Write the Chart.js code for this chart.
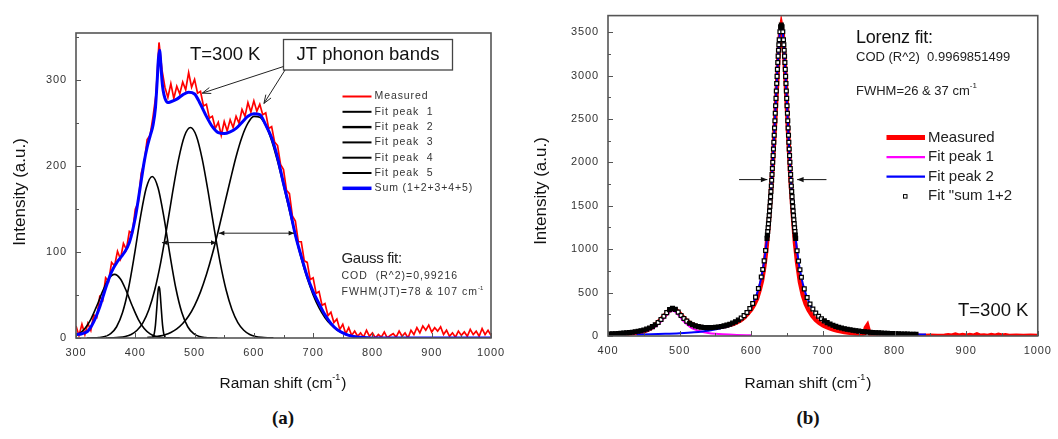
<!DOCTYPE html>
<html>
<head>
<meta charset="utf-8">
<script src="https://cdn.jsdelivr.net/npm/chart.js@4.4.1/dist/chart.umd.min.js"></script>
<style>
  body { margin: 0; background: #fff; width: 1058px; height: 439px; overflow: hidden; position: relative; }
  canvas { position: absolute; top: 0; }
  #chartA { left: 0; }
  #chartB { left: 529px; }
  .panel { position: absolute; top: 407px; width: 60px; text-align: center; line-height: 24px;
           font: bold 19px "Liberation Serif", "Times New Roman", serif; color: #111; }
</style>
</head>
<body>
<canvas id="chartA" width="529" height="400"></canvas>
<canvas id="chartB" width="529" height="400"></canvas>
<div class="panel" style="left:253px">(a)</div>
<div class="panel" style="left:778px">(b)</div>

<script>
function grid(start, step, count) {
  var a = [];
  for (var i = 0; i < count; i++) a.push(start + i * step);
  return a;
}
function pts(xs, ys) {
  return xs.map(function (x, i) { return { x: x, y: ys[i] }; });
}

// ---- (a) Gauss fit of the 300 K spectrum ----
var xTicksA = [300, 400, 500, 600, 700, 800, 900, 1000];
var yTicksA = [0, 100, 200, 300];

var shiftA = grid(300, 5, 141);
var measuredA = [
  14, 3, 16, 4, 17, 9, 27, 24, 48, 44, 70, 66, 88, 84, 101, 92, 110, 103, 124, 122,
  150, 158, 192, 204, 231, 236, 258, 284, 344, 312, 292, 280, 296, 279, 293, 284, 298, 289, 309, 292,
  301, 285, 287, 270, 272, 256, 258, 244, 251, 236, 252, 241, 254, 245, 258, 250, 266, 258, 274, 263,
  276, 264, 272, 260, 262, 244, 246, 228, 224, 202, 196, 172, 168, 142, 136, 112, 112, 90, 88, 68,
  70, 52, 54, 38, 40, 26, 30, 18, 22, 10, 16, 5, 12, 3, 8, 2, 6, 1, 9, 2,
  6, 0, 4, 1, 7, 0, 3, 5, 1, 8, 2, 6, 0, 9, 4, 12, 6, 14, 9, 15,
  7, 12, 8, 13, 4, 9, 2, 6, 1, 8, 3, 7, 2, 10, 4, 8, 2, 11, 4, 9, 3
];

var sumAX = [300, 310, 320, 330, 340, 350, 360, 370, 380, 390, 400, 410, 415, 420, 425, 430, 434, 437, 439, 441,
  443, 445, 447, 450, 455, 460, 470, 480, 490, 500, 510, 520, 530, 540, 550, 560, 570, 580, 590, 600,
  610, 620, 630, 640, 650, 660, 670, 680, 690, 700, 710, 720, 730, 740, 750, 760, 770, 780, 790, 800,
  850, 900, 950, 1000];
var sumA = [4, 5, 8, 19, 36, 58, 77, 89, 98, 111, 140, 183, 205, 222, 235, 248, 268, 300, 325, 335,
  320, 300, 288, 279, 274, 275, 278, 283, 286, 284, 272, 258, 246, 239, 238, 240, 244, 251, 258, 261,
  260, 248, 233, 210, 180, 152, 120, 95, 72, 54, 40, 27, 17, 10, 6, 3, 1.5, 0.8, 0.3, 0,
  0, 0, 0, 0];

var peak1X = [300, 305, 315, 325, 335, 345, 355, 365, 375, 385, 395, 405, 415, 425, 435, 445, 455, 465, 475];
var peak1 = [3.0, 4.8, 11.0, 21.8, 37.2, 54.5, 68.6, 74, 68.6, 54.5, 37.2, 21.8, 11.0, 4.8, 1.8, 0.6, 0.2, 0.05, 0];

var peak2X = grid(318.5, 10, 23);
var peak2 = [0.03, 0.12, 0.47, 1.65, 5.0, 13.1, 29.6, 57.6, 96.6, 139.8, 174.6, 188, 174.6, 139.8, 96.6, 57.6,
  29.6, 13.1, 5.0, 1.65, 0.47, 0.12, 0.03];

var peak3X = grid(353, 10, 29);
var peak3 = [0.1, 0.25, 0.7, 1.75, 4.1, 9.0, 18.0, 33.2, 56.4, 88.3, 127.5, 169.7, 208, 235.2, 245, 235.2,
  208, 169.7, 127.5, 88.3, 56.4, 33.2, 18.0, 9.0, 4.1, 1.75, 0.7, 0.25, 0.1];

var peak4X = [428, 430, 432, 434, 436, 438, 439, 440, 441, 442, 444, 446, 448, 450, 452];
var peak4 = [0.2, 1.3, 5.1, 15.0, 32.4, 51.4, 57.7, 60, 57.7, 51.4, 32.4, 15.0, 5.1, 1.3, 0.2];

var peak5X = grid(420, 10, 39);
var peak5 = [0.6, 1.2, 2.2, 3.8, 6.5, 10.6, 16.8, 25.6, 37.8, 53.7, 73.8, 97.7, 124.9, 154, 183, 211, 234, 250,
  258, 257, 247.5, 229.7, 205.6, 177.7, 148.2, 119.3, 92.6, 69.4, 50.2, 35.0, 23.6, 15.4, 9.6, 5.8, 3.4,
  1.9, 1.0, 0.5, 0.3];

// ---- (b) Lorentz fit ----
var xTicksB = [400, 500, 600, 700, 800, 900, 1000];
var yTicksB = [0, 500, 1000, 1500, 2000, 2500, 3000, 3500];

var shiftB = [400, 410, 420, 430, 440, 450, 455, 460, 465, 470, 475, 480, 485, 490, 495, 500, 505, 510, 515, 520,
  525, 530, 535, 540, 545, 550, 555, 560, 565, 570, 575, 580, 585, 590, 595, 600, 604, 608, 612, 615,
  618, 621, 624, 627, 630, 633, 636, 638, 640, 642, 644, 646, 648, 650, 652, 655, 658, 661, 664, 668,
  672, 676, 680, 685, 690, 695, 700, 705, 710, 715, 720, 725, 730, 735, 740, 745, 750, 755, 758, 760,
  762, 764, 766, 770, 780, 790, 800, 810, 820, 830, 840, 850, 860, 870, 875, 880, 885, 890, 895, 900,
  905, 910, 915, 920, 925, 930, 935, 940, 945, 950, 955, 960, 970, 980, 990, 1000];
var measuredB = [12, 18, 22, 30, 38, 55, 70, 92, 120, 160, 200, 245, 290, 315, 300, 260, 215, 175, 145, 125,
  112, 102, 98, 95, 96, 98, 103, 110, 118, 128, 140, 158, 180, 212, 255, 305, 360, 430, 540, 640,
  790, 990, 1260, 1600, 1980, 2420, 2900, 3230, 3450, 3560, 3470, 3260, 2950, 2600, 2250, 1780, 1400, 1080, 850, 620,
  470, 370, 300, 235, 185, 150, 125, 105, 88, 75, 63, 54, 46, 40, 34, 30, 26, 24, 30, 95,
  120, 60, 22, 18, 12, 8, 5, 3, 2, 2, 1, 2, 1, 2, 8, 3, 15, 4, 10, 2,
  12, 3, 18, 2, 6, 1, 10, 2, 14, 3, 8, 1, 2, 1, 2, 1];

var lor1X = [420, 430, 440, 450, 460, 466, 470, 474, 478, 482, 486, 490, 494, 498, 502, 506, 510, 514, 520, 530,
  540, 550, 560, 580, 600];
var lor1 = [18.9, 25.2, 34.9, 51.1, 79.9, 108, 134, 166, 204, 244, 277, 290, 277, 244, 204, 166, 134, 108, 79.9, 51.1,
  34.9, 25.2, 18.9, 11.75, 7.98];

var lor2X = [440, 460, 480, 500, 520, 540, 560, 570, 580, 590, 600, 606, 610, 614, 618, 622, 625, 628, 630, 632,
  634, 636, 638, 640, 642, 644, 646, 648, 650, 652, 654, 656, 659, 662, 666, 670, 674, 678, 684, 694,
  704, 714, 724, 744, 764, 784, 804, 824, 844];
var lor2 = [15.9, 19.6, 24.7, 32.0, 43.2, 61.5, 94.3, 121.5, 162, 225.7, 335, 441, 540, 674, 859, 1119, 1383, 1722, 1997, 2308,
  2646, 2985, 3286, 3498, 3575, 3498, 3286, 2985, 2646, 2308, 1997, 1722, 1383, 1119, 859, 674, 540, 441, 335, 225.7,
  162, 121.5, 94.3, 61.5, 43.2, 32.0, 24.7, 19.6, 15.9];

var fitSumBX = grid(402, 4, 54).concat([616, 618, 620], grid(622, 0.5, 34), grid(639, 1, 7),
  grid(645.5, 0.5, 34), [664, 666, 668], grid(670, 4, 41));
var fitSumB = [
  23.6, 25.1, 26.8, 28.7, 30.9, 33.4, 36.3, 39.6, 43.5, 48.2, 53.7, 60.5, 68.7, 78.9, 91.7, 108, 129, 156, 189, 228,
  269, 304, 318, 306.5, 275, 237, 201, 171, 147, 130, 117, 108, 102, 98.6, 96.8, 96.6, 97.8, 100.6, 104.6, 110,
  117, 125.5, 136, 149, 164.5, 183.6, 206.8, 235, 271, 316, 374, 448, 547, 680,
  765, 865, 984,
  1124, 1163, 1204, 1247, 1292, 1339, 1388, 1439, 1492, 1547, 1605, 1665, 1727, 1793, 1860, 1930, 2002, 2077, 2153, 2232,
  2313, 2396, 2480, 2565, 2651, 2737, 2822, 2907, 2990, 3071, 3149, 3223, 3291, 3355,
  3412, 3503, 3560, 3580, 3560, 3503, 3412,
  3355, 3291, 3223, 3149, 3071, 2990, 2907, 2822, 2737, 2651, 2565, 2480, 2396, 2313,
  2232, 2153, 2077, 2002, 1930, 1860, 1793, 1727, 1665, 1605, 1547, 1492, 1439, 1388, 1339, 1292, 1247, 1204, 1163, 1124,
  982, 863, 763,
  677, 543, 444, 369, 310, 264, 228, 198, 174, 154, 138, 123, 111, 101, 92, 84, 77, 71, 65.5, 61,
  56.5, 52.6, 49.2, 46, 43.2, 40.6, 38.2, 36.1, 34.1, 32.2, 30.6, 29.1, 27.6, 26.3, 25.1, 24, 22.9, 21.9, 21, 20, 19.2
];

// ---- drawing helpers ----
var SANS = '"Liberation Sans", Arial, Helvetica, sans-serif';
var RED = '#ff0000', BLUE = '#0000ff', MAGENTA = '#ff00ff';

function setFont(ctx, size, spacing) {
  ctx.font = size + 'px ' + SANS;
  ctx.letterSpacing = (spacing || 0) + 'px';
}

// text followed by a small raised part and an optional tail, e.g. cm^-1)
function supText(ctx, x, y, main, sup, tail, size, spacing, align) {
  setFont(ctx, size, spacing);
  var w1 = ctx.measureText(main).width;
  var w3 = tail ? ctx.measureText(tail).width : 0;
  setFont(ctx, Math.round(size * 0.6), 0);
  var w2 = ctx.measureText(sup).width + 1;
  var x0 = align === 'center' ? x - (w1 + w2 + w3) / 2 : x;
  ctx.textAlign = 'left';
  ctx.textBaseline = 'middle';
  setFont(ctx, size, spacing);
  ctx.fillText(main, x0, y);
  setFont(ctx, Math.round(size * 0.6), 0);
  ctx.fillText(sup, x0 + w1, y - size * 0.42);
  if (tail) {
    setFont(ctx, size, spacing);
    ctx.fillText(tail, x0 + w1 + w2, y);
  }
}

function arrowHead(ctx, x1, y1, x2, y2, len, spread, filled) {
  var ang = Math.atan2(y2 - y1, x2 - x1);
  ctx.beginPath();
  ctx.moveTo(x2 - len * Math.cos(ang - spread), y2 - len * Math.sin(ang - spread));
  ctx.lineTo(x2, y2);
  ctx.lineTo(x2 - len * Math.cos(ang + spread), y2 - len * Math.sin(ang + spread));
  if (filled) { ctx.closePath(); ctx.fill(); } else { ctx.stroke(); }
}

function arrow(ctx, x1, y1, x2, y2, len, spread, filled, both) {
  ctx.beginPath();
  ctx.moveTo(x1, y1);
  ctx.lineTo(x2, y2);
  ctx.stroke();
  arrowHead(ctx, x1, y1, x2, y2, len, spread, filled);
  if (both) arrowHead(ctx, x2, y2, x1, y1, len, spread, filled);
}

// box around the plot with short inward ticks, minor ones halfway between labels
function drawFrame(chart, xTicks, yTicks) {
  var ctx = chart.ctx, a = chart.chartArea, xs = chart.scales.x, ys = chart.scales.y;
  ctx.save();
  ctx.strokeStyle = '#555';
  ctx.lineWidth = 1;
  ctx.beginPath();
  xTicks.forEach(function (v, i) {
    var p = Math.round(xs.getPixelForValue(v)) + 0.5;
    ctx.moveTo(p, a.bottom);
    ctx.lineTo(p, a.bottom - 5);
    if (i > 0) {
      var m = Math.round(xs.getPixelForValue((v + xTicks[i - 1]) / 2)) + 0.5;
      ctx.moveTo(m, a.bottom);
      ctx.lineTo(m, a.bottom - 3);
    }
  });
  yTicks.forEach(function (v, i) {
    var p = Math.round(ys.getPixelForValue(v)) + 0.5;
    ctx.moveTo(a.left, p);
    ctx.lineTo(a.left + 5, p);
    var next = i < yTicks.length - 1 ? (v + yTicks[i + 1]) / 2 : v + (v - yTicks[i - 1]) / 2;
    if (next < ys.max) {
      var m = Math.round(ys.getPixelForValue(next)) + 0.5;
      ctx.moveTo(a.left, m);
      ctx.lineTo(a.left + 3, m);
    }
  });
  ctx.stroke();
  ctx.lineWidth = 1.6;
  ctx.strokeRect(a.left, a.top, a.right - a.left, a.bottom - a.top);
  ctx.restore();
}

function axisTitles(ctx, xc, yc, xTitleX, xTitleY) {
  ctx.save();
  ctx.fillStyle = '#111';
  supText(ctx, xTitleX, xTitleY, 'Raman shift (cm', '-1', ')', 15.5, 0, 'center');
  ctx.translate(xc, yc);
  ctx.rotate(-Math.PI / 2);
  setFont(ctx, 17, 0);
  ctx.textAlign = 'center';
  ctx.textBaseline = 'middle';
  ctx.fillText('Intensity (a.u.)', 0, 0);
  ctx.restore();
}

function legendRow(ctx, x1, x2, y, ds) {
  ctx.strokeStyle = ds.borderColor;
  ctx.lineWidth = ds.legendWidth || ds.borderWidth;
  ctx.beginPath();
  ctx.moveTo(x1, y);
  ctx.lineTo(x2, y);
  ctx.stroke();
}

var tickFont = { family: SANS, size: 11 };

function fixedTicks(values) {
  return function (scale) {
    scale.ticks = values.map(function (v) { return { value: v }; });
  };
}

function axisOptions(xTicks, yTicks, yMax, yWidth, xHeight) {
  var plain = function (v) { return String(v); };
  return {
    x: {
      type: 'linear', min: xTicks[0], max: xTicks[xTicks.length - 1],
      afterBuildTicks: fixedTicks(xTicks),
      afterFit: function (s) { s.height = xHeight; },
      grid: { display: false, drawTicks: false }, border: { display: false },
      ticks: { color: '#333', font: tickFont, padding: 8, maxRotation: 0, autoSkip: false, callback: plain }
    },
    y: {
      type: 'linear', min: 0, max: yMax,
      afterBuildTicks: fixedTicks(yTicks),
      afterFit: function (s) { s.width = yWidth; },
      grid: { display: false, drawTicks: false }, border: { display: false },
      ticks: { color: '#333', font: tickFont, padding: 9, autoSkip: false, callback: plain }
    }
  };
}

// squares packed closer than ~3.5 px merge into a solid band, so fill those black
function squareFill(c) {
  var chart = c.chart, d = c.dataset.data, i = c.dataIndex;
  var xs = chart.scales && chart.scales.x, ys = chart.scales && chart.scales.y;
  if (!xs || !ys || !d[i]) return '#fff';
  function gap(j) {
    if (j < 0 || j >= d.length) return Infinity;
    var dx = xs.getPixelForValue(d[j].x) - xs.getPixelForValue(d[i].x);
    var dy = ys.getPixelForValue(d[j].y) - ys.getPixelForValue(d[i].y);
    return Math.sqrt(dx * dx + dy * dy);
  }
  return Math.min(gap(i - 1), gap(i + 1)) < 3.5 ? '#000' : '#fff';
}

var spacingPlugin = {
  id: 'spacing',
  beforeDraw: function (chart) { chart.ctx.letterSpacing = '0.9px'; }
};

// ---- panel (a) ----
var decorA = {
  id: 'decorA',
  afterDraw: function (chart) {
    var ctx = chart.ctx, a = chart.chartArea, xs = chart.scales.x, ys = chart.scales.y;
    var X = function (v) { return xs.getPixelForValue(v); };
    var Y = function (v) { return ys.getPixelForValue(v); };
    drawFrame(chart, xTicksA, yTicksA);
    axisTitles(ctx, 20, 192, 283, 384);

    ctx.save();
    ctx.fillStyle = '#111';
    setFont(ctx, 18.5, 0);
    ctx.textAlign = 'left';
    ctx.textBaseline = 'middle';
    ctx.fillText('T=300 K', a.left + 114, a.top + 22);

    // label box and its two pointers
    ctx.lineWidth = 1.3;
    ctx.strokeStyle = '#444';
    ctx.strokeRect(a.left + 207.5, a.top + 6.5, 169, 30.5);
    ctx.textAlign = 'center';
    ctx.fillText('JT phonon bands', a.left + 292, a.top + 22);
    ctx.lineWidth = 1;
    ctx.strokeStyle = '#222';
    arrow(ctx, a.left + 207.5, a.top + 33.5, X(513), Y(285), 9, 0.35, false, false);
    arrow(ctx, a.left + 209, a.top + 37, X(617), Y(273), 9, 0.35, false, false);

    // FWHM markers of the two JT bands
    ctx.fillStyle = '#111';
    arrow(ctx, X(445), Y(111), X(537), Y(111), 6, 0.4, true, true);
    arrow(ctx, X(541), Y(122), X(668), Y(122), 6, 0.4, true, true);

    // legend
    var ds = chart.data.datasets;
    var order = [6, 1, 2, 3, 4, 5, 0];
    ctx.fillStyle = '#333';
    setFont(ctx, 10.5, 0.9);
    ctx.textAlign = 'left';
    order.forEach(function (idx, i) {
      var y = a.top + 63.5 + i * 15.3;
      legendRow(ctx, a.left + 266.5, a.left + 295.5, y, ds[idx]);
      ctx.fillText(ds[idx].label, a.left + 298.5, y);
    });

    // fit summary
    ctx.fillStyle = '#222';
    setFont(ctx, 15, -0.3);
    ctx.fillText('Gauss fit:', a.left + 265.5, a.top + 225.5);
    ctx.fillStyle = '#333';
    setFont(ctx, 10.5, 1);
    ctx.fillText('COD  (R^2)=0,99216', a.left + 265.5, a.top + 243);
    supText(ctx, a.left + 265.5, a.top + 259.5, 'FWHM(JT)=78 & 107 cm', '-1', '', 10.5, 1, 'left');
    ctx.restore();
  }
};

new Chart(document.getElementById('chartA'), {
  type: 'line',
  data: {
    datasets: [
      { label: 'Sum (1+2+3+4+5)', data: pts(sumAX, sumA), borderColor: BLUE, borderWidth: 3, legendWidth: 3.5,
        cubicInterpolationMode: 'monotone', order: 0 },
      { label: 'Fit peak  1', data: pts(peak1X, peak1), borderColor: '#000', borderWidth: 1.6, legendWidth: 2,
        cubicInterpolationMode: 'monotone', order: 1 },
      { label: 'Fit peak  2', data: pts(peak2X, peak2), borderColor: '#000', borderWidth: 1.6, legendWidth: 2.4,
        cubicInterpolationMode: 'monotone', order: 1 },
      { label: 'Fit peak  3', data: pts(peak3X, peak3), borderColor: '#000', borderWidth: 1.6, legendWidth: 2,
        cubicInterpolationMode: 'monotone', order: 1 },
      { label: 'Fit peak  4', data: pts(peak4X, peak4), borderColor: '#000', borderWidth: 1.6, legendWidth: 2,
        cubicInterpolationMode: 'monotone', order: 1 },
      { label: 'Fit peak  5', data: pts(peak5X, peak5), borderColor: '#000', borderWidth: 1.6, legendWidth: 2,
        cubicInterpolationMode: 'monotone', order: 1 },
      { label: 'Measured', data: pts(shiftA, measuredA), borderColor: RED, borderWidth: 1.7, legendWidth: 2,
        tension: 0, order: 2 }
    ]
  },
  options: {
    animation: false, responsive: false, devicePixelRatio: 1, events: [],
    layout: { padding: { left: 0, top: 33, right: 38, bottom: 0 } },
    elements: { point: { radius: 0 } },
    plugins: { legend: { display: false }, tooltip: { enabled: false } },
    scales: axisOptions(xTicksA, yTicksA, 355, 76, 62)
  },
  plugins: [spacingPlugin, decorA]
});

// ---- panel (b) ----
var decorB = {
  id: 'decorB',
  afterDraw: function (chart) {
    var ctx = chart.ctx, a = chart.chartArea, xs = chart.scales.x, ys = chart.scales.y;
    var X = function (v) { return xs.getPixelForValue(v); };
    var Y = function (v) { return ys.getPixelForValue(v); };
    drawFrame(chart, xTicksB, yTicksB);
    axisTitles(ctx, 12, 191, 279, 384);

    ctx.save();
    ctx.fillStyle = '#111';
    ctx.strokeStyle = '#111';
    ctx.textAlign = 'left';
    ctx.textBaseline = 'middle';
    setFont(ctx, 18, -0.2);
    ctx.fillText('Lorenz fit:', a.left + 248, a.top + 22);
    setFont(ctx, 13, 0);
    ctx.fillStyle = '#222';
    ctx.fillText('COD (R^2)  0.9969851499', a.left + 248, a.top + 42);
    supText(ctx, a.left + 248, a.top + 76, 'FWHM=26 & 37 cm', '-1', '', 13, 0, 'left');

    setFont(ctx, 18.5, 0);
    ctx.fillStyle = '#111';
    ctx.fillText('T=300 K', a.left + 350, a.top + 295);

    // FWHM pointers on the main band
    ctx.lineWidth = 1;
    arrow(ctx, X(583), Y(1801), X(622.5), Y(1801), 7, 0.38, true, false);
    arrow(ctx, X(705), Y(1801), X(664), Y(1801), 7, 0.38, true, false);

    // legend
    var ds = chart.data.datasets;
    var order = [3, 2, 1];
    setFont(ctx, 15, 0);
    ctx.fillStyle = '#222';
    order.forEach(function (idx, i) {
      var y = a.top + 122 + i * 19.5;
      legendRow(ctx, a.left + 278.5, a.left + 317, y, ds[idx]);
      ctx.fillText(ds[idx].label, a.left + 320, y);
    });
    var ys4 = a.top + 122 + 3 * 19.5;
    ctx.fillStyle = '#fff';
    ctx.strokeStyle = '#000';
    ctx.lineWidth = 1;
    ctx.fillRect(a.left + 295.5, ys4 - 1.5, 3.5, 3.5);
    ctx.strokeRect(a.left + 295.5, ys4 - 1.5, 3.5, 3.5);
    ctx.fillStyle = '#222';
    ctx.fillText(ds[0].label, a.left + 320, ys4);
    ctx.restore();
  }
};

new Chart(document.getElementById('chartB'), {
  type: 'line',
  data: {
    datasets: [
      { label: 'Fit "sum 1+2', data: pts(fitSumBX, fitSumB), showLine: false, pointStyle: 'rect',
        pointRadius: 2.7, pointBorderWidth: 1.25, pointBackgroundColor: squareFill, pointBorderColor: '#000',
        borderColor: '#000', order: 0 },
      { label: 'Fit peak 2', data: pts(lor2X, lor2), borderColor: BLUE, borderWidth: 2, legendWidth: 2.2,
        cubicInterpolationMode: 'monotone', order: 1 },
      { label: 'Fit peak 1', data: pts(lor1X, lor1), borderColor: MAGENTA, borderWidth: 2, legendWidth: 2.2,
        cubicInterpolationMode: 'monotone', order: 2 },
      { label: 'Measured', data: pts(shiftB, measuredB), borderColor: RED, borderWidth: 4.5, legendWidth: 5,
        tension: 0, order: 3 }
    ]
  },
  options: {
    animation: false, responsive: false, devicePixelRatio: 1, events: [],
    layout: { padding: { left: 0, top: 13, right: 13, bottom: 0 } },
    elements: { point: { radius: 0 } },
    plugins: { legend: { display: false }, tooltip: { enabled: false } },
    scales: axisOptions(xTicksB, yTicksB, 3690, 79, 64)
  },
  plugins: [spacingPlugin, decorB]
});
</script>
</body>
</html>
